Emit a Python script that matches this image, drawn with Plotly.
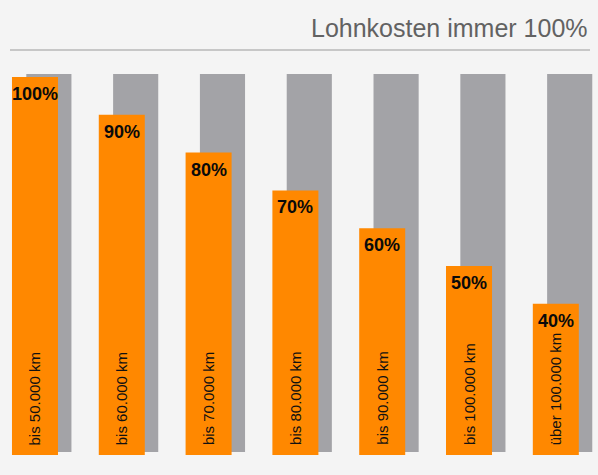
import plotly.graph_objects as go

categories = ["bis 50.000 km", "bis 60.000 km", "bis 70.000 km", "bis 80.000 km",
              "bis 90.000 km", "bis 100.000 km", "über 100.000 km"]
material_pct = [100, 90, 80, 70, 60, 50, 40]
lohn_pct = [100, 100, 100, 100, 100, 100, 100]
pct_labels = ["100%", "90%", "80%", "70%", "60%", "50%", "40%"]
title_text = "Lohnkosten immer 100%"

xs = list(range(len(categories)))
FONT = "Liberation Sans Narrow, sans-serif"

fig = go.Figure()
fig.add_trace(go.Bar(x=xs, y=lohn_pct, width=0.52, offset=-0.1,
                     marker=dict(color="#a3a3a7", line=dict(width=0)),
                     yaxis="y", hoverinfo="skip"))
fig.add_trace(go.Bar(x=xs, y=material_pct, width=0.53, offset=-0.265,
                     marker=dict(color="#ff8800", line=dict(width=0)),
                     yaxis="y2", hoverinfo="skip"))

ann = []
for x, v, lab, cat in zip(xs, material_pct, pct_labels, categories):
    ann.append(dict(x=x, y=v, xref="x", yref="y2", text="<b>" + lab + "</b>",
                    showarrow=False, yanchor="top", xanchor="center", yshift=-5,
                    font=dict(family=FONT, size=18, color="#0a0a0a")))
    ann.append(dict(x=x, y=0, xref="x", yref="y2", text=cat, textangle=-90,
                    showarrow=False, yanchor="bottom", xanchor="center", yshift=8,
                    font=dict(family=FONT, size=15, color="#111111")))
ann.append(dict(x=590/598, y=(455-28)/397, xref="paper", yref="paper", text=title_text,
                showarrow=False, xanchor="right", yanchor="middle",
                font=dict(family=FONT, size=25, color="#626262")))

fig.update_layout(
    width=598, height=475,
    margin=dict(l=0, r=0, t=58, b=20),
    paper_bgcolor="#f4f4f4", plot_bgcolor="#f4f4f4",
    barmode="overlay", showlegend=False,
    xaxis=dict(range=[-0.403, 6.486], visible=False),
    yaxis=dict(range=[-0.8, 104.23], visible=False),
    yaxis2=dict(range=[0, 105.03], visible=False, overlaying="y"),
    annotations=ann,
    shapes=[dict(type="line", xref="paper", yref="paper", x0=10/598, x1=590/598,
                 y0=(455-50)/397, y1=(455-50)/397, line=dict(color="#9a9a9a", width=1))],
)
fig.write_html("out.html", config={"displayModeBar": False},
               post_script="document.body.style.margin='0';document.body.style.background='#f4f4f4';")
